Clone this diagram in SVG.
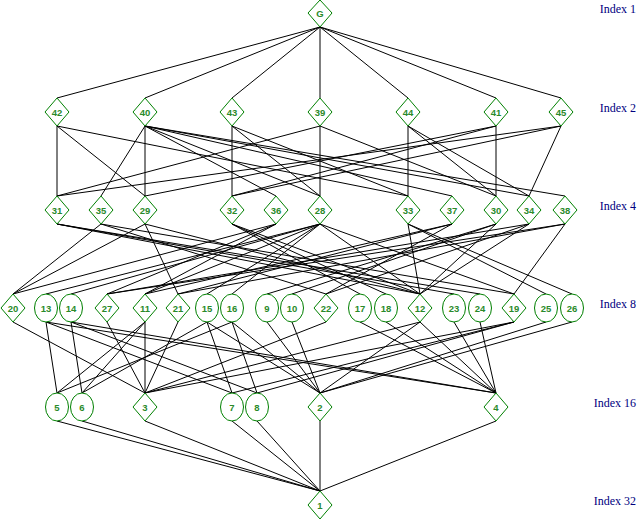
<svg xmlns="http://www.w3.org/2000/svg" width="637" height="519" viewBox="0 0 637 519">
<style>
.n{fill:#fff;stroke:#008000;stroke-width:1}
.t{font-family:"Liberation Sans",Arial,sans-serif;font-size:9.5px;font-weight:bold;fill:#2a8a2a;text-anchor:middle}
.x{font-family:"Liberation Serif","Times New Roman",serif;font-size:12px;fill:#000080;text-anchor:end}
#edges path{stroke:#000;stroke-width:1;fill:none}
</style>
<rect width="637" height="519" fill="#fff"/>
<g id="edges">
<path d="M320 27L57 98M320 27L145 98M320 27L232 98M320 27L320 98M320 27L408 98M320 27L496 98M320 27L561 98"/>
<path d="M57 126L57 196M57 126L145 196M57 126L408 196"/>
<path d="M145 126L145 196M145 126L529 196M145 126L320 196M145 126L101 196M145 126L276 196M145 126L452 196M145 126L565 196"/>
<path d="M232 126L232 196M232 126L408 196M232 126L320 196"/>
<path d="M320 126L320 196M320 126L57 196M320 126L496 196"/>
<path d="M408 126L408 196M408 126L496 196M408 126L529 196"/>
<path d="M496 126L496 196M496 126L145 196M496 126L232 196"/>
<path d="M561 126L529 196M561 126L57 196M561 126L232 196"/>
<path d="M57 224L420 294M57 224L454 294M57 224L480 294"/>
<path d="M145 224L420 294M145 224L13 294M145 224L178 294"/>
<path d="M232 224L420 294M232 224L360 294M232 224L386 294"/>
<path d="M320 224L46 294M320 224L71 294M320 224L145 294M320 224L207 294M320 224L232 294M320 224L420 294M320 224L514 294"/>
<path d="M408 224L420 294M408 224L546 294M408 224L572 294"/>
<path d="M496 224L420 294M496 224L267 294M496 224L292 294"/>
<path d="M529 224L420 294M529 224L107 294M529 224L326 294"/>
<path d="M101 224L13 294M101 224L326 294M101 224L514 294"/>
<path d="M276 224L13 294M276 224L107 294M276 224L145 294"/>
<path d="M452 224L178 294M452 224L326 294M452 224L145 294"/>
<path d="M565 224L178 294M565 224L107 294M565 224L514 294"/>
<path d="M13 322L145 393M107 322L145 393M178 322L145 393M326 322L145 393"/>
<path d="M145 322L145 393M145 322L57 393M145 322L82 393"/>
<path d="M420 322L320 393M420 322L145 393M420 322L496 393"/>
<path d="M514 322L145 393M514 322L232 393M514 322L257 393"/>
<path d="M46 322L57 393M46 322L496 393M46 322L232 393"/>
<path d="M71 322L82 393M71 322L496 393M71 322L257 393"/>
<path d="M207 322L232 393M207 322L320 393M207 322L82 393"/>
<path d="M232 322L257 393M232 322L320 393M232 322L57 393"/>
<path d="M267 322L320 393M292 322L320 393M546 322L320 393M572 322L320 393"/>
<path d="M360 322L496 393M386 322L496 393M454 322L496 393M480 322L496 393"/>
<path d="M57 421L320 491M82 421L320 491M145 421L320 491M232 421L320 491M257 421L320 491M320 421L320 491M496 421L320 491"/>
</g>
<g id="nG"><polygon class="n" points="320,0 332,13 320,27 308,13"/><text class="t" x="320" y="16.5">G</text></g>
<g id="n42"><polygon class="n" points="57,98 69,112 57,126 45,112"/><text class="t" x="57" y="115.5">42</text></g>
<g id="n40"><polygon class="n" points="145,98 157,112 145,126 133,112"/><text class="t" x="145" y="115.5">40</text></g>
<g id="n43"><polygon class="n" points="232,98 244,112 232,126 220,112"/><text class="t" x="232" y="115.5">43</text></g>
<g id="n39"><polygon class="n" points="320,98 332,112 320,126 308,112"/><text class="t" x="320" y="115.5">39</text></g>
<g id="n44"><polygon class="n" points="408,98 420,112 408,126 396,112"/><text class="t" x="408" y="115.5">44</text></g>
<g id="n41"><polygon class="n" points="496,98 508,112 496,126 484,112"/><text class="t" x="496" y="115.5">41</text></g>
<g id="n45"><polygon class="n" points="561,98 573,112 561,126 549,112"/><text class="t" x="561" y="115.5">45</text></g>
<g id="n31"><polygon class="n" points="57,196 69,210 57,224 45,210"/><text class="t" x="57" y="213.5">31</text></g>
<g id="n35"><polygon class="n" points="101,196 113,210 101,224 89,210"/><text class="t" x="101" y="213.5">35</text></g>
<g id="n29"><polygon class="n" points="145,196 157,210 145,224 133,210"/><text class="t" x="145" y="213.5">29</text></g>
<g id="n32"><polygon class="n" points="232,196 244,210 232,224 220,210"/><text class="t" x="232" y="213.5">32</text></g>
<g id="n36"><polygon class="n" points="276,196 288,210 276,224 264,210"/><text class="t" x="276" y="213.5">36</text></g>
<g id="n28"><polygon class="n" points="320,196 332,210 320,224 308,210"/><text class="t" x="320" y="213.5">28</text></g>
<g id="n33"><polygon class="n" points="408,196 420,210 408,224 396,210"/><text class="t" x="408" y="213.5">33</text></g>
<g id="n37"><polygon class="n" points="452,196 464,210 452,224 440,210"/><text class="t" x="452" y="213.5">37</text></g>
<g id="n30"><polygon class="n" points="496,196 508,210 496,224 484,210"/><text class="t" x="496" y="213.5">30</text></g>
<g id="n34"><polygon class="n" points="529,196 541,210 529,224 517,210"/><text class="t" x="529" y="213.5">34</text></g>
<g id="n38"><polygon class="n" points="565,196 577,210 565,224 553,210"/><text class="t" x="565" y="213.5">38</text></g>
<g id="n20"><polygon class="n" points="13,294 25,308 13,322 1,308"/><text class="t" x="13" y="311.5">20</text></g>
<g id="n13"><ellipse class="n" cx="46" cy="308" rx="11.5" ry="14"/><text class="t" x="46" y="311.5">13</text></g>
<g id="n14"><ellipse class="n" cx="71" cy="308" rx="11.5" ry="14"/><text class="t" x="71" y="311.5">14</text></g>
<g id="n27"><polygon class="n" points="107,294 119,308 107,322 95,308"/><text class="t" x="107" y="311.5">27</text></g>
<g id="n11"><polygon class="n" points="145,294 157,308 145,322 133,308"/><text class="t" x="145" y="311.5">11</text></g>
<g id="n21"><polygon class="n" points="178,294 190,308 178,322 166,308"/><text class="t" x="178" y="311.5">21</text></g>
<g id="n15"><ellipse class="n" cx="207" cy="308" rx="11.5" ry="14"/><text class="t" x="207" y="311.5">15</text></g>
<g id="n16"><ellipse class="n" cx="232" cy="308" rx="11.5" ry="14"/><text class="t" x="232" y="311.5">16</text></g>
<g id="n9"><ellipse class="n" cx="267" cy="308" rx="11.5" ry="14"/><text class="t" x="267" y="311.5">9</text></g>
<g id="n10"><ellipse class="n" cx="292" cy="308" rx="11.5" ry="14"/><text class="t" x="292" y="311.5">10</text></g>
<g id="n22"><polygon class="n" points="326,294 338,308 326,322 314,308"/><text class="t" x="326" y="311.5">22</text></g>
<g id="n17"><ellipse class="n" cx="360" cy="308" rx="11.5" ry="14"/><text class="t" x="360" y="311.5">17</text></g>
<g id="n18"><ellipse class="n" cx="386" cy="308" rx="11.5" ry="14"/><text class="t" x="386" y="311.5">18</text></g>
<g id="n12"><polygon class="n" points="420,294 432,308 420,322 408,308"/><text class="t" x="420" y="311.5">12</text></g>
<g id="n23"><ellipse class="n" cx="454" cy="308" rx="11.5" ry="14"/><text class="t" x="454" y="311.5">23</text></g>
<g id="n24"><ellipse class="n" cx="480" cy="308" rx="11.5" ry="14"/><text class="t" x="480" y="311.5">24</text></g>
<g id="n19"><polygon class="n" points="514,294 526,308 514,322 502,308"/><text class="t" x="514" y="311.5">19</text></g>
<g id="n25"><ellipse class="n" cx="546" cy="308" rx="11.5" ry="14"/><text class="t" x="546" y="311.5">25</text></g>
<g id="n26"><ellipse class="n" cx="572" cy="308" rx="11.5" ry="14"/><text class="t" x="572" y="311.5">26</text></g>
<g id="n5"><ellipse class="n" cx="57" cy="407" rx="11.5" ry="14"/><text class="t" x="57" y="410.5">5</text></g>
<g id="n6"><ellipse class="n" cx="82" cy="407" rx="11.5" ry="14"/><text class="t" x="82" y="410.5">6</text></g>
<g id="n3"><polygon class="n" points="145,393 157,407 145,421 133,407"/><text class="t" x="145" y="410.5">3</text></g>
<g id="n7"><ellipse class="n" cx="232" cy="407" rx="11.5" ry="14"/><text class="t" x="232" y="410.5">7</text></g>
<g id="n8"><ellipse class="n" cx="257" cy="407" rx="11.5" ry="14"/><text class="t" x="257" y="410.5">8</text></g>
<g id="n2"><polygon class="n" points="320,393 332,407 320,421 308,407"/><text class="t" x="320" y="410.5">2</text></g>
<g id="n4"><polygon class="n" points="496,393 508,407 496,421 484,407"/><text class="t" x="496" y="410.5">4</text></g>
<g id="n1"><polygon class="n" points="320,491 332,505 320,519 308,505"/><text class="t" x="320" y="508.5">1</text></g>
<g id="levels">
<text class="x" x="636" y="13">Index 1</text>
<text class="x" x="636" y="112">Index 2</text>
<text class="x" x="636" y="210">Index 4</text>
<text class="x" x="636" y="308">Index 8</text>
<text class="x" x="636" y="407">Index 16</text>
<text class="x" x="636" y="505">Index 32</text>
</g>
</svg>
